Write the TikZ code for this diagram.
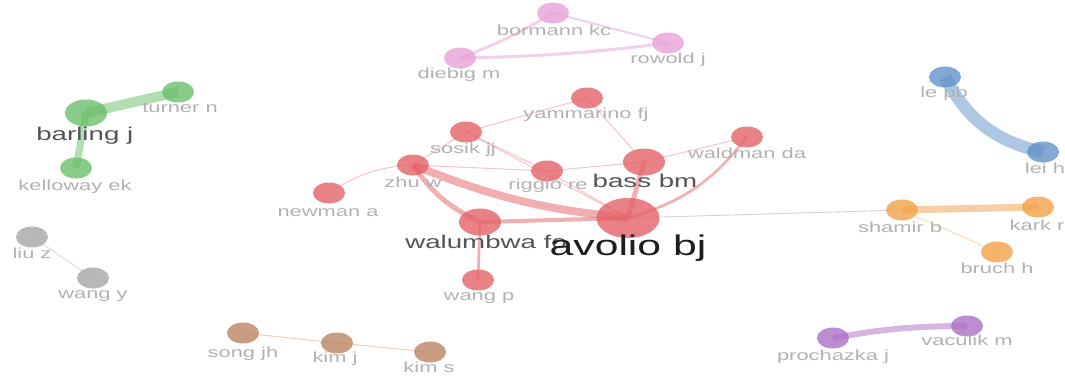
\documentclass[tikz,border=0pt]{standalone}
\usepackage{fontspec}
\setmainfont{Liberation Sans}[FakeStretch=1.5]
\usepackage{xcolor}
\usetikzlibrary{shapes.geometric, backgrounds}

\definecolor{cRed}{RGB}{228,96,102}
\definecolor{cPink}{RGB}{232,160,215}
\definecolor{cGreen}{RGB}{104,189,104}
\definecolor{cBlue}{RGB}{95,145,200}
\definecolor{cOrange}{RGB}{242,160,70}
\definecolor{cGray}{RGB}{165,165,165}
\definecolor{cBrown}{RGB}{185,130,95}
\definecolor{cPurple}{RGB}{170,110,195}
\definecolor{cLbl}{RGB}{178,178,178}
\definecolor{cLblMid}{RGB}{85,85,85}
\definecolor{cLblBig}{RGB}{30,30,30}

\begin{document}
\begin{tikzpicture}[x=0.02cm, y=-0.02cm,
		au/.style={ellipse, fill, inner sep=0pt, minimum width=0.64cm, minimum height=0.42cm, fill opacity=0.78},
		aumid/.style={minimum width=0.84cm, minimum height=0.54cm},
		aubig/.style={minimum width=1.26cm, minimum height=0.8cm},
		lbl/.style={anchor=base, inner sep=0pt, text=cLbl, font=\fontsize{8.3}{10}\selectfont},
		lblmid/.style={text=cLblMid, font=\fontsize{10.5}{12}\selectfont},
		lblbig/.style={text=cLblBig, font=\fontsize{16.2}{18}\selectfont},
		thin link/.style={line width=0.6pt, draw opacity=0.35},
		link/.style={draw opacity=0.5}]
			\useasboundingbox (0,0) rectangle (1065,383);

			\begin{scope}[cRed]
				\node[au, aubig] (avolio) at (628,218) {};
				\node[au, aumid] (bass) at (644,162) {};
				\node[au, aumid] (walumbwa) at (480,222) {};
				\node[au] (zhu) at (413,165) {};
				\node[au] (sosik) at (466,132) {};
				\node[au] (riggio) at (547,171) {};
				\node[au] (yammarino) at (587,98) {};
				\node[au] (waldman) at (747,137) {};
				\node[au] (newman) at (329,193) {};
				\node[au] (wangp) at (478,280) {};
			\end{scope}

			\begin{scope}[cPink]
				\node[au] (bormann) at (553,13) {};
				\node[au] (rowold) at (668,43) {};
				\node[au] (diebig) at (460,58) {};
			\end{scope}

			\begin{scope}[cGreen]
				\node[au, aumid] (barling) at (86,113) {};
				\node[au] (turner) at (178,92) {};
				\node[au] (kelloway) at (76,168) {};
			\end{scope}

			\begin{scope}[cBlue]
				\node[au] (lepb) at (945,77) {};
				\node[au] (leih) at (1043,152) {};
			\end{scope}

			\begin{scope}[cOrange]
				\node[au] (shamir) at (902,210) {};
				\node[au] (kark) at (1038,207) {};
				\node[au] (bruch) at (997,252) {};
			\end{scope}

			\begin{scope}[cGray]
				\node[au] (liuz) at (32,237) {};
				\node[au] (wangy) at (93,278) {};
			\end{scope}

			\begin{scope}[cBrown]
				\node[au] (songjh) at (243,333) {};
				\node[au] (kimj) at (337,343) {};
				\node[au] (kims) at (430,352) {};
			\end{scope}

			\begin{scope}[cPurple]
				\node[au] (prochazka) at (833,338) {};
				\node[au] (vaculik) at (967,326) {};
			\end{scope}

			\node[lbl, lblmid, anchor=base west] (walumbwa-l) at (405,248) {walumbwa fo};
			\node[lbl, lblbig] (avolio-l) at (628,255) {avolio bj};
			\node[lbl, lblmid] (bass-l) at (645,187) {bass bm};
			\node[lbl] (zhu-l) at (413,187) {zhu w};
			\node[lbl] (sosik-l) at (463,153) {sosik jj};
			\node[lbl] (riggio-l) at (548,189) {riggio re};
			\node[lbl] (yammarino-l) at (586,118) {yammarino fj};
			\node[lbl] (waldman-l) at (747,158) {waldman da};
			\node[lbl] (newman-l) at (328,216) {newman a};
			\node[lbl] (wangp-l) at (479,300) {wang p};
			\node[lbl] (bormann-l) at (554,35) {bormann kc};
			\node[lbl] (rowold-l) at (668,63) {rowold j};
			\node[lbl] (diebig-l) at (459,78) {diebig m};
			\node[lbl, lblmid, anchor=base west] (barling-l) at (36,140) {barling j};
			\node[lbl] (turner-l) at (180,112) {turner n};
			\node[lbl] (kelloway-l) at (75,190) {kelloway ek};
			\node[lbl] (lepb-l) at (944,97) {le pb};
			\node[lbl] (leih-l) at (1045,173) {lei h};
			\node[lbl] (shamir-l) at (900,232) {shamir b};
			\node[lbl] (kark-l) at (1037,230) {kark r};
			\node[lbl] (bruch-l) at (997,273) {bruch h};
			\node[lbl] (liuz-l) at (32,258) {liu z};
			\node[lbl] (wangy-l) at (93,298) {wang y};
			\node[lbl] (songjh-l) at (243,357) {song jh};
			\node[lbl] (kimj-l) at (335,362) {kim j};
			\node[lbl] (kims-l) at (429,372) {kim s};
			\node[lbl] (prochazka-l) at (833,360) {prochazka j};
			\node[lbl] (vaculik-l) at (967,345) {vaculik m};

			\begin{scope}[on background layer]
				\fill[white] (0,0) rectangle (1065,383);
				\draw[gray!35, line width=0.5pt] (avolio.center) -- (shamir.center);

				\begin{scope}[cRed, thin link]
					\draw (zhu.center) to[bend right=15] (newman.center);
					\draw (zhu.center) -- (sosik.center);
					\draw (zhu.center) -- (riggio.center);
					\draw (sosik.center) -- (yammarino.center);
					\draw (sosik.center) -- (riggio.center);
					\draw (sosik.center) -- (avolio.center);
					\draw (yammarino.center) -- (bass.center);
					\draw (riggio.center) -- (bass.center);
					\draw (riggio.center) -- (avolio.center);
					\draw (bass.center) -- (waldman.center);
				\end{scope}

				\begin{scope}[cRed, link]
					\draw[line width=4.5pt] (zhu.center) to[bend right=8] (avolio.center);
					\draw[line width=2.8pt] (zhu.center) to[bend right=15] (walumbwa.center);
					\draw[line width=2.3pt] (walumbwa.center) -- (avolio.center);
					\draw[line width=2.8pt] (bass.center) -- (avolio.center);
					\draw[line width=1.5pt] (avolio.center) to[bend right=18] (waldman.center);
					\draw[line width=1.5pt] (walumbwa.center) -- (wangp.center);
				\end{scope}

				\begin{scope}[cPink, link]
					\draw[line width=1.7pt] (diebig.center) to[bend right=5] (bormann.center);
					\draw[line width=1.7pt] (diebig.center) to[bend right=3] (rowold.center);
					\draw[line width=1.1pt] (bormann.center) -- (rowold.center);
				\end{scope}

				\begin{scope}[cGreen, link]
					\draw[line width=5.7pt] (barling.center) -- (turner.center);
					\draw[line width=4pt] (barling.center) -- (kelloway.center);
				\end{scope}

				\begin{scope}[cBlue, link]
					\draw[line width=7pt] (lepb.center) to[bend right=25] (leih.center);
				\end{scope}

				\begin{scope}[cOrange]
					\draw[link, line width=4pt] (shamir.center) -- (kark.center);
					\draw[thin link] (shamir.center) -- (bruch.center);
				\end{scope}

				\draw[cGray, thin link] (liuz.center) -- (wangy.center);

				\begin{scope}[cBrown, thin link]
					\draw (songjh.center) -- (kimj.center);
					\draw (kimj.center) -- (kims.center);
				\end{scope}

				\draw[cPurple, link, line width=3.4pt] (prochazka.center) to[bend left=5] (vaculik.center);
			\end{scope}
		\end{tikzpicture}
\end{document}
